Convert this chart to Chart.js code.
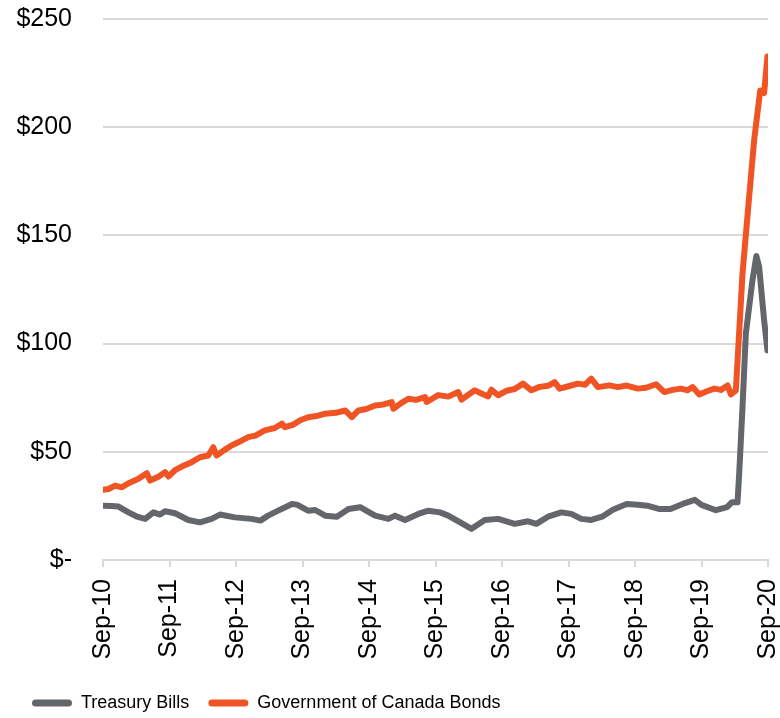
<!DOCTYPE html>
<html lang="en">

<head>
    <meta charset="UTF-8" />
    <title>T-Bills vs GoC Bonds</title>
    <style>
        html, body {
            margin: 0;
            padding: 0;
            background: #ffffff;
        }

        #chart {
            display: block;
        }
    </style>
</head>

<body>
    <canvas id="chart" width="780" height="718"></canvas>

    <script src="https://cdn.jsdelivr.net/npm/chart.js"></script>
    <script>
        // x = months since Sep-10, y = $ billions
        const tickYears = ['10', '11', '12', '13', '14', '15', '16', '17', '18', '19', '20'];

        const billsMonths = [0, 1.5, 2.8, 4.6, 6, 7.6, 9.1, 10.3, 11.2, 13, 15.4, 17.5, 19.6, 21.1, 23.8, 26.8, 28.4, 29.8,
            31.6, 34.1, 35, 37, 38.3, 40.1, 42.2, 44.3, 46.4, 49.1, 51.5, 52.7, 54.5, 56.9, 58.7, 60.8, 62.3, 64.7,
            66.5, 68.9, 71.3, 74.3, 76.7, 78.2, 80.3, 82.7, 84.5, 86.3, 88.1, 90.2, 92, 94.5, 96.5, 98.2, 100.3,
            102.4, 104.6, 106.8, 108, 110.6, 112.6, 113.5, 114.5, 114.8, 115.4, 116, 117.2, 117.9, 118.4, 119.3, 119.9];
        const billsValues = [25.1, 24.9, 24.7, 22, 20.2, 19, 22, 21, 22.5, 21.6, 18.5, 17.4, 19, 21, 19.7, 19, 18.2, 20.5,
            22.8, 25.9, 25.6, 22.8, 23.1, 20.5, 20, 23.6, 24.4, 20.5, 19, 20.5, 18.5, 21.3, 22.8, 22, 20.5, 17,
            14.4, 18.5, 19, 16.7, 17.9, 16.7, 20, 22, 21.3, 19, 18.5, 20.2, 23.2, 25.9, 25.5, 25.1, 23.6,
            23.6, 25.9, 27.8, 25.5, 23, 24.4, 26.7, 26.7, 39.8, 70.7, 104.6, 129.3, 140.5, 135.5, 110.8, 96.9];

        const bondMonths = [0, 1, 2.2, 3.4, 4.6, 6.4, 7.9, 8.5, 10, 11.2, 11.8, 13, 14.2, 16, 17.5, 19, 19.9, 20.5, 22,
            23.2, 24.5, 26.2, 27.5, 29.2, 31, 32.3, 32.8, 34.3, 35.5, 37, 38.5, 40.1, 42, 43.7, 44.9, 46.1, 47.5,
            49.1, 50.5, 52.1, 52.4, 53.8, 55.1, 56.5, 58.1, 58.4, 60.5, 62.3, 64.1, 64.7, 66, 67.1, 68.4, 69.5,
            70.1, 71.3, 72.8, 74.3, 75.8, 77.3, 78.8, 80.3, 81.5, 82.4, 84, 85.7, 87, 88.1, 89.3, 91.4, 92.9,
            94.5, 96.5, 98, 99.8, 101.3, 102.8, 104.3, 105.5, 106.4, 107.6, 109, 110.3, 111.5, 112.7, 113.3,
            114.2, 115.4, 116.5, 117.5, 118.6, 119.3, 119.9];
        const bondValues = [32.5, 32.8, 34.4, 33.6, 35.5, 37.5, 40.1, 36.7, 38.5, 40.6, 38.6, 41.5, 43.2, 45.2, 47.5, 48.3, 52.1, 48.3, 51,
            52.9, 54.5, 56.8, 57.5, 59.9, 61, 63, 61.4, 62.5, 64.5, 66, 66.5, 67.6, 68, 69.1, 66, 69.1, 69.8,
            71.4, 71.8, 73, 69.9, 72.5, 74.5, 74, 75.3, 73, 76.2, 75.5, 77.6, 74.1, 76.5, 78.4, 76.8, 75.6,
            78.7, 76.1, 78.2, 79, 81.5, 78.4, 80, 80.5, 82.2, 79.2, 80.3, 81.5, 81, 83.8, 79.9, 80.7, 79.9,
            80.6, 79.2, 79.6, 81.2, 77.6, 78.6, 79.2, 78.4, 79.9, 76.5, 78, 79.2, 78.6, 80.7, 76.5,
            78.4, 132.4, 165, 194, 217, 215.8, 232.7];

        const seriesNames = ['Treasury Bills', 'Government of Canada Bonds'];
        const seriesColors = ['#63666a', '#f05424'];

        const toPoints = (xs, ys) => xs.map((x, i) => ({ x: x, y: ys[i] }));

        const fontFamily = '"Liberation Sans", Arial, sans-serif';
        const gridColor = '#d9d9d9';

        new Chart(document.getElementById('chart'), {
            type: 'line',
            data: {
                datasets: [
                    {
                        label: seriesNames[0],
                        data: toPoints(billsMonths, billsValues),
                        borderColor: seriesColors[0],
                        backgroundColor: seriesColors[0],
                        borderWidth: 6,
                        pointRadius: 0,
                        borderJoinStyle: 'round',
                        borderCapStyle: 'round',
                        tension: 0
                    },
                    {
                        label: seriesNames[1],
                        data: toPoints(bondMonths, bondValues),
                        borderColor: seriesColors[1],
                        backgroundColor: seriesColors[1],
                        borderWidth: 6,
                        pointRadius: 0,
                        borderJoinStyle: 'round',
                        borderCapStyle: 'round',
                        tension: 0
                    }
                ]
            },
            options: {
                responsive: false,
                animation: false,
                layout: { padding: { left: 13, right: 12, top: 19, bottom: -4 } },
                scales: {
                    x: {
                        type: 'linear',
                        min: 0,
                        max: 120,
                        grid: { drawOnChartArea: false, drawTicks: true, tickLength: 7, color: gridColor, lineWidth: 2 },
                        border: { display: true, color: gridColor, width: 2 },
                        ticks: {
                            stepSize: 12,
                            autoSkip: false,
                            minRotation: 90,
                            maxRotation: 90,
                            padding: 12,
                            color: '#000',
                            font: { family: fontFamily, size: 25, lineHeight: 1 },
                            callback: v => 'Sep-' + tickYears[Math.round(v / 12)]
                        },
                        afterFit: scale => {
                            scale.height = 115;
                            scale.paddingLeft = 0;
                            scale.paddingRight = 0;
                        }
                    },
                    y: {
                        min: 0,
                        max: 250,
                        grid: { drawTicks: false, color: gridColor, lineWidth: 2 },
                        border: { display: false },
                        ticks: {
                            stepSize: 50,
                            padding: 31,
                            color: '#000',
                            font: { family: fontFamily, size: 25 },
                            callback: v => v === 0 ? '$-' : '$' + v
                        },
                        afterFit: scale => {
                            scale.width = 90;
                            scale.paddingTop = 0;
                            scale.paddingBottom = 0;
                        }
                    }
                },
                plugins: {
                    tooltip: { enabled: false },
                    legend: {
                        position: 'bottom',
                        align: 'start',
                        labels: {
                            boxWidth: 40,
                            boxHeight: 7,
                            padding: 19,
                            useBorderRadius: true,
                            borderRadius: 3.5,
                            color: '#000',
                            font: { family: fontFamily, size: 18 },
                            generateLabels: chart => Chart.defaults.plugins.legend.labels.generateLabels(chart)
                                .map(item => Object.assign(item, { lineWidth: 0 }))
                        }
                    }
                }
            }
        });
    </script>
</body>

</html>
